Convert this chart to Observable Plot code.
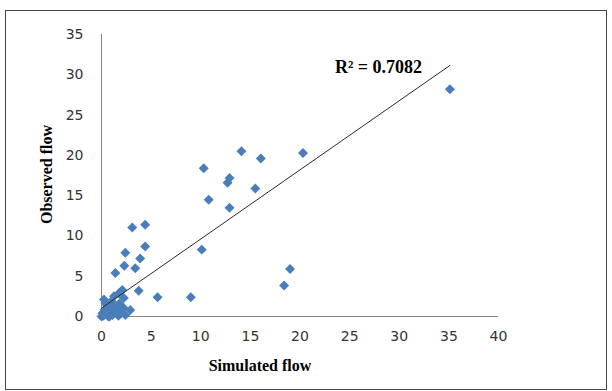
<!DOCTYPE html>
<html><head><meta charset="utf-8">
<script src="https://cdn.jsdelivr.net/npm/d3@7"></script>
<script src="https://cdn.jsdelivr.net/npm/@observablehq/plot@0.6"></script>
<style>
body{margin:0;background:#fff;}
#wrap{position:relative;width:612px;height:391px;}
#wrap svg{position:absolute;left:0;top:0;}
#border{position:absolute;left:5px;top:10px;width:602px;height:380px;border:1px solid #444;box-sizing:border-box;pointer-events:none;}
</style></head><body>
<div id="wrap"><div id="border"></div></div>
<script>
// Simulated flow (x) and observed flow (y)
const simulated = [35.1, 20.3, 16.05, 14.1, 10.3, 12.9, 12.7, 15.5, 10.8, 12.9,
  10.1, 19.0, 18.4, 9.0, 5.65, 4.4, 3.1, 4.4, 2.4, 3.9,
  2.3, 3.4, 1.4, 3.75, 2.1, 1.75, 0.25, 1.25, 2.25,
  0.0, 0.1, 0.2, 0.3, 0.5, 0.6, 0.8, 0.9, 1.1, 1.2,
  1.4, 1.5, 1.7, 1.8, 2.0, 2.2, 2.4, 2.9, 0.4, 1.0, 0.7];
const observed = [28.2, 20.3, 19.6, 20.5, 18.4, 17.2, 16.6, 15.9, 14.5, 13.5,
  8.3, 5.9, 3.85, 2.4, 2.4, 11.4, 11.05, 8.7, 7.9, 7.2,
  6.3, 6.0, 5.4, 3.2, 3.3, 2.9, 2.1, 2.5, 2.3,
  0.0, 0.4, 0.1, 0.8, 0.3, 1.1, 0.0, 0.6, 0.2, 1.4,
  0.5, 1.0, 0.1, 1.6, 0.4, 1.1, 0.2, 0.8, 1.6, 1.9, 0.0];
const xTicks = [0, 5, 10, 15, 20, 25, 30, 35, 40];
const yTicks = [0, 5, 10, 15, 20, 25, 30, 35];
// Linear trendline
const trendSlope = 0.858;
const trendIntercept = 1.04;
const r2Label = "R² = 0.7082";
const xTitle = "Simulated flow";
const yTitle = "Observed flow";

const points = simulated.map((x, i) => ({x, y: observed[i]}));
const xExt = d3.extent(simulated);
const trend = xExt.map(x => ({x, y: trendIntercept + trendSlope * x}));

const chart = Plot.plot({
  width: 612, height: 391,
  marginLeft: 101, marginRight: 114, marginTop: 34, marginBottom: 75,
  style: {fontFamily: "DejaVu Sans", fontSize: "14px", color: "#333", background: "transparent"},
  x: {domain: [0, 40], ticks: xTicks, tickSize: 0, tickPadding: 15, label: null},
  y: {domain: [0, 35], ticks: yTicks, tickSize: 0, tickPadding: 18, label: null},
  marks: [
    Plot.ruleX([0], {stroke: "#868686"}),
    Plot.ruleY([0], {stroke: "#868686"}),
    Plot.dot(points, {x: "x", y: "y", symbol: "diamond2", r: 4.5, fill: "#4a7ebb", stroke: "none"}),
    Plot.line(trend, {x: "x", y: "y", stroke: "#2a2a2a", strokeWidth: 1}),
    Plot.text([r2Label], {frameAnchor: "top-left", dx: 277, dy: 26, text: d => d, textAnchor: "middle",
      fontFamily: "Liberation Serif", fontWeight: "bold", fontSize: 18, fill: "#000"}),
    Plot.text([xTitle], {frameAnchor: "bottom", dx: -40, dy: 49, text: d => d, textAnchor: "middle", lineAnchor: "middle",
      fontFamily: "Liberation Serif", fontWeight: "bold", fontSize: 16, fill: "#000"}),
    Plot.text([yTitle], {frameAnchor: "left", dx: -55, dy: -1, rotate: -90, text: d => d, textAnchor: "middle", lineAnchor: "middle",
      fontFamily: "Liberation Serif", fontWeight: "bold", fontSize: 16, fill: "#000"})
  ]
});
document.getElementById("wrap").appendChild(chart);
</script>
</body></html>
